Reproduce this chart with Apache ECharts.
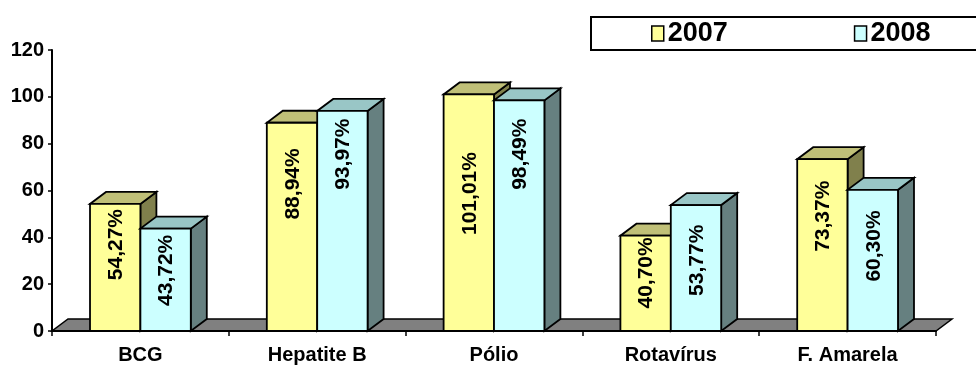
<!DOCTYPE html>
<html>
<head>
<meta charset="utf-8">
<style>
  html, body { margin: 0; padding: 0; background: #fff; }
  #chart { width: 976px; height: 365px; }
</style>
<script src="https://cdn.jsdelivr.net/npm/echarts@6/dist/echarts.min.js"></script>
</head>
<body>
<div id="chart"></div>
<script>
// Vaccination coverage by vaccine, 2007 vs 2008
const categories = ['BCG', 'Hepatite B', 'Pólio', 'Rotavírus', 'F. Amarela'];
const years = ['2007', '2008'];
const values2007 = [54.27, 88.94, 101.01, 40.70, 73.37];
const values2008 = [43.72, 93.97, 98.49, 53.77, 60.30];
// where each rotated value label is centred, in axis units
const labelAt2007 = [36.9, 62.8, 58.7, 24.8, 49.0];
const labelAt2008 = [25.9, 75.5, 75.5, 30.2, 36.3];
const yTicks = { min: 0, max: 120, interval: 20 };

const FONT = '"Liberation Sans", Arial, sans-serif';
const DEPTH_X = 16, DEPTH_Y = 12;
const BAR_FRAC = 0.285;
const OUTLINE = { stroke: '#000', lineWidth: 1.8 };

const palette = {
  '2007': { front: '#FFFF99', top: '#C0C078', side: '#80804C' },
  '2008': { front: '#CCFFFF', top: '#99C6C6', side: '#668080' }
};

function fmt(v) { return v.toFixed(2).replace('.', ',') + '%'; }

function barRenderer(year, side, labelAt) {
  const c = palette[year];
  return function (params, api) {
    const i = api.value(0), v = api.value(1);
    const top = api.coord([i, v]);
    const base = api.coord([i, 0]);
    const lab = api.coord([i, labelAt[params.dataIndex]]);
    const bw = api.size([1, 0])[0] * BAR_FRAC;
    const x0 = side < 0 ? top[0] - bw : top[0];
    const x1 = x0 + bw;
    const yT = top[1], yB = base[1];
    return {
      type: 'group',
      children: [
        { type: 'polygon', shape: { points: [[x1, yT], [x1 + DEPTH_X, yT - DEPTH_Y], [x1 + DEPTH_X, yB - DEPTH_Y], [x1, yB]] },
          style: Object.assign({ fill: c.side }, OUTLINE) },
        { type: 'polygon', shape: { points: [[x0, yT], [x1, yT], [x1 + DEPTH_X, yT - DEPTH_Y], [x0 + DEPTH_X, yT - DEPTH_Y]] },
          style: Object.assign({ fill: c.top }, OUTLINE) },
        { type: 'rect', shape: { x: x0, y: yT, width: bw, height: yB - yT },
          style: Object.assign({ fill: c.front }, OUTLINE) },
        { type: 'text', x: (x0 + x1) / 2 + 1, y: lab[1], rotation: Math.PI / 2,
          style: { text: fmt(v), font: 'bold 21px ' + FONT, fill: '#000', align: 'center', verticalAlign: 'middle' } }
      ]
    };
  };
}

function floorRenderer(params, api) {
  const cs = params.coordSys;
  const yB = cs.y + cs.height;
  return {
    type: 'polygon',
    shape: { points: [[cs.x, yB], [cs.x + cs.width, yB], [cs.x + cs.width + DEPTH_X, yB - DEPTH_Y], [cs.x + DEPTH_X, yB - DEPTH_Y]] },
    style: { fill: '#808080', stroke: '#000', lineWidth: 1.5 }
  };
}

const chart = echarts.init(document.getElementById('chart'), null, { renderer: 'canvas' });
chart.setOption({
  animation: false,
  backgroundColor: '#fff',
  grid: { left: 52, right: 40, top: 50, bottom: 32, containLabel: false },
  // frame around the legend, running off the right edge
  graphic: [
    { type: 'rect', left: 590, top: 16, shape: { width: 420, height: 33 },
      style: { fill: '#fff', stroke: '#000', lineWidth: 2 }, z: 0 }
  ],
  legend: {
    orient: 'horizontal',
    data: [
      { name: years[0], itemStyle: { color: palette['2007'].front, borderColor: '#000', borderWidth: 1.5 } },
      { name: years[1], itemStyle: { color: palette['2008'].front, borderColor: '#000', borderWidth: 1.5 } }
    ],
    left: 651, top: 20,
    padding: 0,
    itemGap: 126,
    itemWidth: 12, itemHeight: 15,
    icon: 'rect',
    textStyle: { fontFamily: FONT, fontWeight: 'bold', fontSize: 27, color: '#000', padding: [0, 0, 0, -1] },
    z: 5
  },
  xAxis: {
    type: 'category',
    data: categories,
    boundaryGap: true,
    axisLine: { lineStyle: { color: '#000', width: 2 } },
    axisTick: { show: true, interval: 0, inside: false, length: 5, lineStyle: { color: '#000', width: 1.5 } },
    axisLabel: { interval: 0, margin: 14, fontFamily: FONT, fontWeight: 'bold', fontSize: 20, color: '#000' },
    z: 10
  },
  yAxis: {
    type: 'value',
    min: yTicks.min, max: yTicks.max, interval: yTicks.interval,
    axisLine: { show: true, lineStyle: { color: '#000', width: 2 } },
    axisTick: { show: true, length: 4, lineStyle: { color: '#000', width: 1.5 } },
    axisLabel: { margin: 8, fontFamily: FONT, fontWeight: 'bold', fontSize: 20, color: '#000' },
    splitLine: { show: false },
    z: 10
  },
  series: [
    { type: 'custom', name: 'floor', renderItem: floorRenderer, data: [[0, 0]], silent: true, z: 1 },
    { type: 'custom', name: years[0], itemStyle: { color: palette['2007'].front },
      renderItem: barRenderer('2007', -1, labelAt2007),
      data: values2007.map((v, i) => [i, v]), z: 2 },
    { type: 'custom', name: years[1], itemStyle: { color: palette['2008'].front },
      renderItem: barRenderer('2008', 1, labelAt2008),
      data: values2008.map((v, i) => [i, v]), z: 3 }
  ]
});
</script>
</body>
</html>
